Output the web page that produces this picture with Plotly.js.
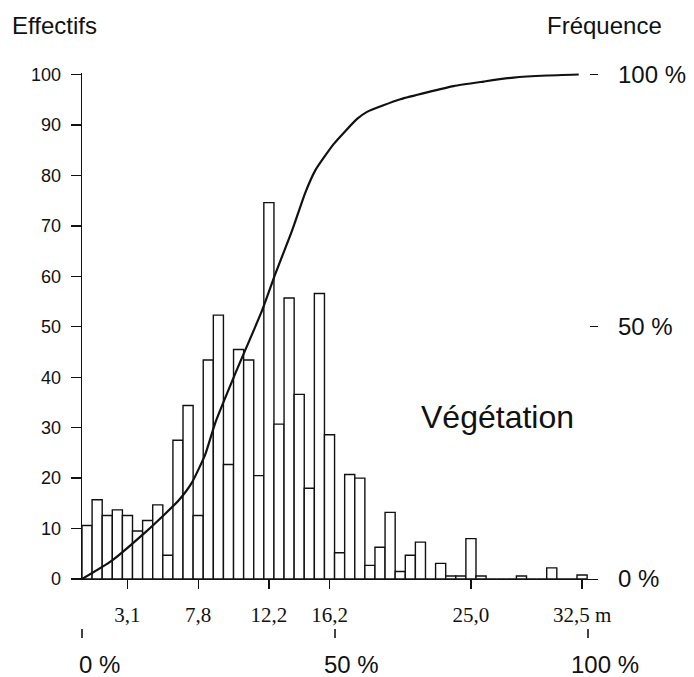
<!DOCTYPE html>
<html>
<head>
<meta charset="utf-8">
<script src="https://cdn.plot.ly/plotly-3.0.1.min.js"></script>
<style>html,body{margin:0;padding:0;background:#fff}#chart{width:694px;height:677px}</style>
</head>
<body>
<div id="chart"></div>
<script>
// Class width (m) of the height histogram
const binWidth = 0.65;
// Number of trees (Effectifs) per 0.65 m height class, classes 0..49
const counts = [
  10.6, 15.7, 12.6, 13.7, 12.6, 9.5, 11.6, 14.7, 4.7, 27.5,
  34.4, 12.6, 43.4, 52.3, 22.7, 45.5, 43.4, 20.5, 74.6, 30.7,
  55.7, 36.6, 18.0, 56.6, 28.6, 5.2, 20.7, 20.0, 2.7, 6.3,
  13.2, 1.5, 4.7, 7.3, 0, 3.1, 0.6, 0.6, 8.0, 0.6,
  0, 0, 0, 0.6, 0, 0, 2.2, 0, 0, 0.8
];
// Cumulative frequency curve (height in m, %)
const cumHeight = [0, 1.9, 4.05, 5.34, 6.2, 7.05, 7.92, 8.58, 9.86, 11.58, 12.44, 13.51, 14.37, 15.01, 16.19, 17.7, 18.34, 20.48, 23.91, 25.84, 27.77, 29.92, 31.96];
const cumPct    = [0, 3.6, 9.2, 12.9, 15.5, 19.0, 24.6, 31.0, 40.7, 53.2, 60.5, 69.0, 76.6, 81.0, 86.2, 91.2, 92.6, 95.1, 97.7, 98.6, 99.4, 99.8, 100];
// Tick labels of the height axis and the classes they label
const tickBins = [4, 11, 18, 24, 38, 49];
const tickLabels = ['3,1', '7,8', '12,2', '16,2', '25,0', '32,5 m'];
// Frequency labels
const pctVals = [0, 50, 100];
const pctLabels = ['0 %', '50 %', '100 %'];

const binCenters = counts.map((_, i) => binWidth * (i + 0.5));

const sans = 'Liberation Sans, Arial, Helvetica, sans-serif';
const serif = 'Liberation Serif, Times New Roman, serif';

const data = [
  {
    type: 'bar', x: binCenters, y: counts, width: binWidth,
    marker: {color: 'rgba(255,255,255,1)', line: {color: '#111', width: 1.4}},
    hoverinfo: 'x+y', showlegend: false
  },
  {
    type: 'scatter', mode: 'lines', x: cumHeight, y: cumPct, yaxis: 'y2',
    line: {color: '#111', width: 2.2, shape: 'spline', smoothing: 0.5},
    showlegend: false
  },
  {
    // empty trace so the frequency scale under the chart is drawn
    type: 'scatter', mode: 'lines', x: [], y: [], xaxis: 'x2', yaxis: 'y',
    hoverinfo: 'skip', showlegend: false
  }
];

const yTop = 100.3;
const bottomLabels = pctVals.map((v, i) => ({
  text: pctLabels[i], xref: 'x2', yref: 'paper', x: v, y: -36 / 555,
  xanchor: 'center', yanchor: 'middle', xshift: 17, showarrow: false,
  font: {family: 'Liberation Sans, Arial, Helvetica, sans-serif', size: 24, color: '#111'}
}));

const layout = {
  width: 694, height: 677,
  margin: {l: 82, r: 96, t: 73, b: 49, pad: 0},
  paper_bgcolor: '#fff', plot_bgcolor: 'rgba(0,0,0,0)',
  bargap: 0,
  showlegend: false,
  font: {family: sans, color: '#111', size: 18},
  xaxis: {
    range: [0, 33.2], anchor: 'y',
    showline: true, linecolor: '#111', linewidth: 1.4,
    showgrid: false, zeroline: false,
    ticks: 'outside', ticklen: 9, tickwidth: 1.3, tickcolor: '#111',
    tickvals: tickBins.map(b => binWidth * (b + 0.5)), ticktext: tickLabels,
    tickfont: {family: serif, size: 21, color: '#111'},
    ticklabelstandoff: 7
  },
  xaxis2: {
    overlaying: 'x', anchor: 'free', position: 0, side: 'bottom',
    range: [0, 102],
    showline: false, showgrid: false, zeroline: false,
    ticks: 'outside', ticklen: 9, tickwidth: 1.3, tickcolor: '#444',
    tickvals: pctVals, showticklabels: false
  },
  yaxis: {
    domain: [49 / 555, 1], range: [0, yTop],
    showline: true, linecolor: '#111', linewidth: 1.4,
    showgrid: false, zeroline: false,
    ticks: 'outside', ticklen: 10, tickwidth: 1.3, tickcolor: '#111',
    tickvals: [0, 10, 20, 30, 40, 50, 60, 70, 80, 90, 100],
    tickfont: {family: sans, size: 18, color: '#111'},
    ticklabelstandoff: 6
  },
  yaxis2: {
    overlaying: 'y', side: 'right', anchor: 'x', range: [0, yTop],
    showline: false, showgrid: false, zeroline: false,
    ticks: 'inside', ticklen: 8, tickwidth: 1.3, tickcolor: '#111',
    tickvals: pctVals, ticktext: pctLabels,
    tickfont: {family: sans, size: 24, color: '#111'},
    ticklabelstandoff: 19
  },
  annotations: [
    {text: 'Effectifs', xref: 'paper', yref: 'paper', x: (10 - 82) / 516, y: (677 - 25 - 49) / 555, xanchor: 'left', yanchor: 'middle',
     showarrow: false, font: {family: sans, size: 24, color: '#111'}},
    {text: 'Fréquence', xref: 'paper', yref: 'paper', x: (545 - 82) / 516, y: (677 - 25 - 49) / 555, xanchor: 'left', yanchor: 'middle',
     showarrow: false, font: {family: sans, size: 24, color: '#111'}},
    {text: 'Végétation', xref: 'paper', yref: 'paper', x: (497 - 82) / 516, y: (677 - 49 - 417) / 555, xanchor: 'center', yanchor: 'middle',
     showarrow: false, font: {family: sans, size: 32, color: '#111'}}
  ].concat(bottomLabels)
};

Plotly.newPlot('chart', data, layout, {displayModeBar: false, staticPlot: true});
</script>
</body>
</html>
